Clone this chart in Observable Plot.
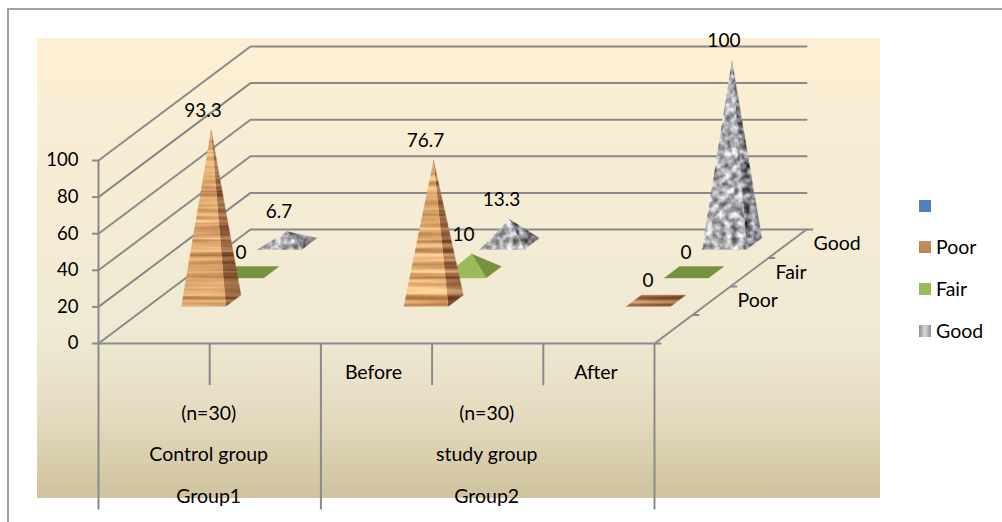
<!DOCTYPE html>
<html>
<head>
<meta charset="utf-8">
<script src="https://cdn.jsdelivr.net/npm/d3@7"></script>
<script src="https://cdn.jsdelivr.net/npm/@observablehq/plot@0.6"></script>
<style>
  html, body { margin: 0; padding: 0; background: #fff; }
  #chart { position: relative; width: 1002px; height: 522px; overflow: hidden; font-family: Lato, "Noto Sans", sans-serif; }
  #frame { position: absolute; left: 7px; top: 8px; width: 1000px; height: 530px; border: 2px solid #a3a3a3; box-sizing: border-box; }
  #panel { position: absolute; left: 37px; top: 38px; width: 843px; height: 460px;
           background: linear-gradient(#fdefd3 0%, #f3ebd4 45%, #efe9d3 65%, #e4dbbf 82%, #cfc29d 100%); }
  #chart svg { position: absolute; left: 0; top: 0; }
  .key { position: absolute; left: 919px; width: 12px; height: 12px; }
  .keytext { position: absolute; left: 936px; font-size: 19.5px; line-height: 20px; color: #000; }
</style>
</head>
<body>
<div id="chart">
  <div id="frame"></div>
  <div id="panel"></div>
</div>
<script>
// Results per study arm and grade, in percent
const slots = [0, 2, 4];                 // category slots that hold data (five slots along the axis)
const seriesNames = ["Poor", "Fair", "Good"];
const poorValues = [93.3, 76.7, 0];
const fairValues = [0, 10, 0];
const goodValues = [6.7, 13.3, 100];
const valueTicks = [0, 20, 40, 60, 80, 100];

// Multi-level category axis
const periodLabels = [["Before", 2.5], ["After", 4.5]];
const armLabels = [["(n=30)", "Control group", "Group1"], ["(n=30)", "study group", "Group2"]];
const armCentres = [1, 3.5];
const levelValues = [-38.2, -60.6, -83.6];
const shortDividers = [1, 3, 4];
const longDividers = [0, 2, 5];

// Oblique projection: a full step in depth shifts the slot and value coordinates
const depthSlots = 152 / 111.2;
const depthValue = 114 / 1.83;
const px = (slot, depth) => slot + depth * depthSlots;
const py = (value, depth) => value + depth * depthValue;
const rowDepth = (row) => (row + 1.5) / 4;
const halfWidth = 0.2;
const halfDepth = 0.05;

const fills = {
  Poor: {front: "url(#woodLight)", side: "url(#woodDark)", flat: "url(#woodDark)"},
  Fair: {front: "#9bbb59", side: "#76923c", flat: "#76923c"},
  Good: {front: "url(#stoneLight)", side: "url(#stoneDark)", flat: "url(#stoneDark)"}
};
const seriesValues = {Poor: poorValues, Fair: fairValues, Good: goodValues};

function corner(slot, row, sx, sd, value = 0) {
  const d = rowDepth(row) + sd * halfDepth;
  return {x: px(slot + 0.5 + sx * halfWidth, d), y: py(value, d)};
}

function face(points, fill) {
  return Plot.line(points, {x: "x", y: "y", fill, stroke: fill, strokeWidth: 0.4, curve: "linear"});
}

// Faces of one pyramid; a zero value collapses to a flat footprint
function pyramid(name, row, slot, value) {
  const c = fills[name];
  const fl = corner(slot, row, -1, -1), fr = corner(slot, row, 1, -1);
  const br = corner(slot, row, 1, 1), bl = corner(slot, row, -1, 1);
  if (value === 0) return [face([fl, fr, br, bl], c.flat)];
  const apex = corner(slot, row, 0, 0, value);
  return [face([fr, br, apex], c.side), face([fl, fr, apex], c.front)];
}

const bodies = [];
for (const row of [2, 1, 0]) {
  const name = seriesNames[row];
  seriesValues[name].forEach((v, i) => bodies.push(...pyramid(name, row, slots[i], v)));
}

const valueLabels = seriesNames.flatMap((name, row) =>
  seriesValues[name].map((v, i) => ({...corner(slots[i], row, 0, 0, v), label: String(v)})));

// Wall and floor outlines
const wallLines = valueTicks.map((v) => [
  {x: 0, y: v}, {x: px(0, 1), y: py(v, 1)}, {x: px(5, 1), y: py(v, 1)}
]);
const depthTicks = [0.25, 0.5, 0.75, 1];

const defs = () => {
  const g = d3.create("svg:g");
  g.html(`<defs>
    <filter id="fxWoodL" x="0" y="0" width="100%" height="100%" color-interpolation-filters="sRGB">
      <feTurbulence type="fractalNoise" baseFrequency="0.006 0.26" numOctaves="3" seed="4"/>
      <feColorMatrix values="0.6 0 0 0 0.56  0.7 0 0 0 0.3  0.62 0 0 0 0.12  0 0 0 0 1"/>
    </filter>
    <filter id="fxWoodD" x="0" y="0" width="100%" height="100%" color-interpolation-filters="sRGB">
      <feTurbulence type="fractalNoise" baseFrequency="0.006 0.26" numOctaves="3" seed="4"/>
      <feColorMatrix values="0.8 0 0 0 0.2  0.75 0 0 0 0.03  0.65 0 0 0 -0.07  0 0 0 0 1"/>
    </filter>
    <filter id="fxStoneL" x="0" y="0" width="100%" height="100%" color-interpolation-filters="sRGB">
      <feTurbulence type="fractalNoise" baseFrequency="0.16" numOctaves="3" seed="9"/>
      <feColorMatrix values="1.1 0 0 0 0.14  1.1 0 0 0 0.14  1.15 0 0 0 0.13  0 0 0 0 1"/>
    </filter>
    <filter id="fxStoneD" x="0" y="0" width="100%" height="100%" color-interpolation-filters="sRGB">
      <feTurbulence type="fractalNoise" baseFrequency="0.16" numOctaves="3" seed="3"/>
      <feColorMatrix values="1.2 0 0 0 -0.1  1.2 0 0 0 -0.1  1.25 0 0 0 -0.1  0 0 0 0 1"/>
    </filter>
    <pattern id="woodLight" patternUnits="userSpaceOnUse" width="1002" height="522"><rect width="1002" height="522" filter="url(#fxWoodL)"/></pattern>
    <pattern id="woodDark" patternUnits="userSpaceOnUse" width="1002" height="522"><rect width="1002" height="522" filter="url(#fxWoodD)"/></pattern>
    <pattern id="stoneLight" patternUnits="userSpaceOnUse" width="1002" height="522"><rect width="1002" height="522" filter="url(#fxStoneL)"/></pattern>
    <pattern id="stoneDark" patternUnits="userSpaceOnUse" width="1002" height="522"><rect width="1002" height="522" filter="url(#fxStoneD)"/></pattern>
  </defs>`);
  return g.node();
};

const axisColor = "#8a8a8a";
const lineStyle = {stroke: axisColor, strokeWidth: 2};
const textStyle = {fill: "#000", fontSize: 19.5};

const chart = Plot.plot({
  width: 1002,
  height: 522,
  marginLeft: 98,
  marginTop: 0, marginRight: 0, marginBottom: 0,
  style: {background: "transparent", fontFamily: "Lato, 'Noto Sans', sans-serif"},
  x: {domain: [0, 5], range: [98, 654], axis: null},
  y: {domain: [0, 100], range: [343, 160], axis: null},
  marks: [
    defs,
    ...wallLines.map((pts) => Plot.line(pts, {x: "x", y: "y", ...lineStyle, curve: "linear"})),
    Plot.ruleX([0], {y1: 0, y2: 100, ...lineStyle}),
    Plot.axisY({ticks: valueTicks, tickSize: 6, tickPadding: 14, label: null,
                stroke: axisColor, strokeWidth: 2, fill: "#000", fontSize: 18.5, tickFormat: (d) => d}),
    // floor edges
    Plot.ruleY([0], {x1: 0, x2: 5, ...lineStyle}),
    Plot.line([{x: 5, y: 0}, {x: px(5, 1), y: py(0, 1)}], {x: "x", y: "y", ...lineStyle, curve: "linear"}),
    Plot.link(depthTicks.concat([0]), {
      x1: (d) => px(5, d), y1: (d) => py(0, d),
      x2: (d) => px(5, d) + 0.06, y2: (d) => py(0, d), ...lineStyle
    }),
    // category axis dividers
    Plot.ruleX(shortDividers, {y1: 0, y2: -23, ...lineStyle}),
    Plot.ruleX(longDividers, {y1: 0, y2: -91, ...lineStyle}),
    ...bodies,
    Plot.text(valueLabels, {x: "x", y: "y", text: "label", dx: -8, dy: -19.5, fill: "#000", fontSize: 19}),
    // category labels
    Plot.text(periodLabels, {x: (d) => d[1], y: () => -15.8, text: (d) => d[0], dx: -3, ...textStyle}),
    ...armLabels.map((levels, i) =>
      Plot.text(levels, {x: () => armCentres[i], y: (d, j) => levelValues[j], text: (d) => d, dx: -1, ...textStyle})),
    // depth axis labels
    Plot.text(seriesNames, {
      x: (d, i) => px(5, rowDepth(i)), y: (d, i) => py(0, rowDepth(i)),
      text: (d) => d, textAnchor: "start", dx: 26, ...textStyle
    })
  ]
});

const host = document.getElementById("chart");
host.appendChild(chart);

// Legend down the right-hand side
const legend = [["", "#4f81bd", 200], ["Poor", "linear-gradient(#c98f5f,#b9824f)", 241], ["Fair", "#9bbb59", 283], ["Good", "linear-gradient(90deg,#8e8e92,#d8d8dc 50%,#8e8e92)", 325]];
for (const [label, swatch, top] of legend) {
  const k = document.createElement("div");
  k.className = "key";
  k.style.top = top + "px";
  k.style.background = swatch;
  host.appendChild(k);
  if (label) {
    const t = document.createElement("div");
    t.className = "keytext";
    t.style.top = (top - 4) + "px";
    t.textContent = label;
    host.appendChild(t);
  }
}
</script>
</body>
</html>
